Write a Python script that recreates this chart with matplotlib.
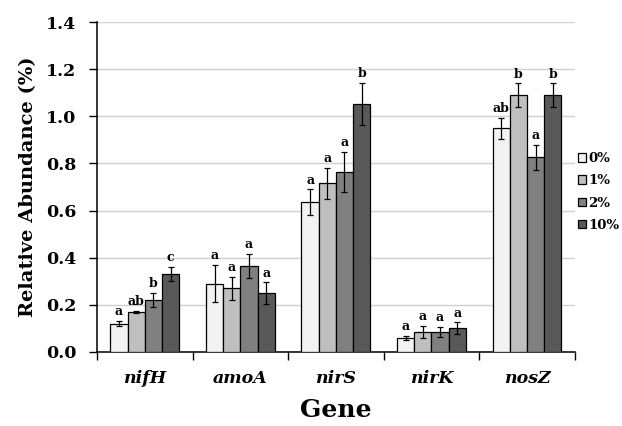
import numpy as np
import matplotlib
matplotlib.use("Agg")
from matplotlib import pyplot as plt
from matplotlib.ticker import MultipleLocator, FixedLocator

genes = ["nifH", "amoA", "nirS", "nirK", "nosZ"]
treatments = ["0%", "1%", "2%", "10%"]

# mean relative abundance per treatment, one entry per gene
means = {
    "0%":  [0.12, 0.29, 0.635, 0.06, 0.95],
    "1%":  [0.17, 0.27, 0.715, 0.086, 1.09],
    "2%":  [0.22, 0.365, 0.765, 0.085, 0.826],
    "10%": [0.33, 0.25, 1.053, 0.10, 1.09],
}
errors = {
    "0%":  [0.01, 0.08, 0.055, 0.008, 0.045],
    "1%":  [0.005, 0.05, 0.065, 0.025, 0.05],
    "2%":  [0.03, 0.05, 0.085, 0.022, 0.052],
    "10%": [0.03, 0.045, 0.088, 0.025, 0.05],
}
letters = {
    "0%":  ["a", "a", "a", "a", "ab"],
    "1%":  ["ab", "a", "a", "a", "b"],
    "2%":  ["b", "a", "a", "a", "a"],
    "10%": ["c", "a", "b", "a", "b"],
}
colors = ["#f2f2f2", "#bfbfbf", "#808080", "#595959"]

plt.rcParams["font.family"] = "DejaVu Serif"
plt.rcParams["font.weight"] = "bold"

fig = plt.figure(figsize=(6.22, 4.26), dpi=100)
ax = fig.add_axes([0.156, 0.174, 0.768, 0.774])

x = np.arange(len(genes))
w = 0.18
for i, t in enumerate(treatments):
    pos = x + (i - 1.5) * w
    ax.bar(pos, means[t], w, color=colors[i], edgecolor="black", linewidth=0.9,
           yerr=errors[t], capsize=2, error_kw=dict(elinewidth=0.9, capthick=0.9),
           label=t, zorder=3)
    for p, m, e, s in zip(pos, means[t], errors[t], letters[t]):
        ax.text(p, m + e + 0.012, s, ha="center", va="bottom", fontsize=9,
                fontweight="bold", zorder=4)

ax.set_xlim(-0.5, len(genes) - 0.5)
ax.set_ylim(0, 1.4)
ax.yaxis.set_major_locator(MultipleLocator(0.2))
ax.yaxis.set_major_formatter(matplotlib.ticker.FormatStrFormatter("%.1f"))
ax.grid(axis="y", color="#d0d0d0", linewidth=1, zorder=0)

ax.xaxis.set_major_locator(FixedLocator(np.arange(-0.5, len(genes))))
ax.xaxis.set_minor_locator(FixedLocator(x))
ax.set_xticklabels([], minor=False)
ax.set_xticklabels(genes, minor=True, fontsize=12.5, fontweight="bold", style="italic")
ax.tick_params(axis="x", which="major", length=6, width=1, direction="out")
ax.tick_params(axis="x", which="minor", length=0, pad=13)
ax.tick_params(axis="y", length=6, width=1, direction="out", labelsize=12.5, pad=9)
for lab in ax.get_yticklabels():
    lab.set_fontweight("bold")

for side in ["top", "right"]:
    ax.spines[side].set_visible(False)
ax.spines["left"].set_linewidth(1.1)
ax.spines["bottom"].set_linewidth(1.1)

ax.set_ylabel("Relative Abundance (%)", fontsize=14, fontweight="bold", labelpad=6)
ax.set_xlabel("Gene", fontsize=18, fontweight="bold", labelpad=8)

fig.legend(loc="upper left", bbox_to_anchor=(0.929, 0.643), frameon=False,
           handlelength=0.6, handleheight=0.6, handletextpad=0.2,
           labelspacing=0.7, borderaxespad=0, borderpad=0,
           prop=dict(weight="bold", size=9.5))

fig.savefig("out.png", dpi=100)
